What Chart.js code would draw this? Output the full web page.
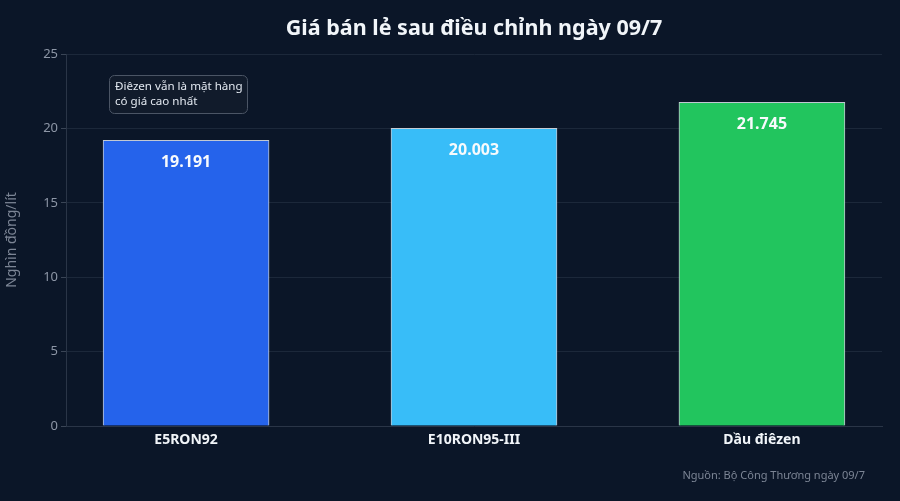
<!DOCTYPE html>
<html><head><meta charset="utf-8">
<script src="https://cdn.jsdelivr.net/npm/chart.js@4.4.1/dist/chart.umd.min.js"></script>
<style>html,body{margin:0;padding:0;background:#0b1628;}#wrap{width:900px;height:501px;}</style>
</head><body><div id="wrap"><canvas id="c" width="900" height="501"></canvas></div>
<script>
const categories = ['E5RON92', 'E10RON95-III', 'Dầu điêzen'];
const prices = [19.191, 20.003, 21.745];
const barColors = ['#2563eb', '#38bdf8', '#22c55e'];
const yTicks = [0, 5, 10, 15, 20, 25];
const titleText = 'Giá bán lẻ sau điều chỉnh ngày 09/7';
const yTitle = 'Nghìn đồng/lít';
const noteLines = ['Điêzen vẫn là mặt hàng', 'có giá cao nhất'];
const sourceText = 'Nguồn: Bộ Công Thương ngày 09/7';
const FONT = "'Noto Sans', 'Open Sans', sans-serif";

const overlay = {
  id: 'overlay',
  afterDatasetsDraw(chart) {
    const ctx = chart.ctx, ca = chart.chartArea;
    ctx.save();
    const meta = chart.getDatasetMeta(0);
    ctx.fillStyle = '#f8fafc';
    ctx.font = 'bold 16px ' + FONT;
    ctx.textAlign = 'center'; ctx.textBaseline = 'middle';
    meta.data.forEach((b, i) => {
      ctx.fillText(prices[i].toFixed(3), b.x, b.y + 22);
    });
    ctx.font = 'bold 21.5px ' + FONT;
    ctx.fillStyle = '#f1f5f9';
    ctx.fillText(titleText, (ca.left + ca.right) / 2, 29);
    const bx = ca.left + 43, by = ca.top + 21, bw = 138, bh = 38;
    ctx.beginPath();
    ctx.roundRect(bx + 0.5, by + 0.5, bw, bh, 5);
    ctx.fillStyle = '#111b2b';
    ctx.fill();
    ctx.strokeStyle = '#4b5565';
    ctx.lineWidth = 1;
    ctx.stroke();
    ctx.font = '11.6px ' + FONT;
    ctx.fillStyle = '#e2e8f0';
    ctx.textAlign = 'left';
    ctx.fillText(noteLines[0], bx + 6, by + 12);
    ctx.fillText(noteLines[1], bx + 6, by + 27);
    ctx.font = '11px ' + FONT;
    ctx.fillStyle = '#7c8595';
    ctx.textAlign = 'right';
    ctx.fillText(sourceText, ca.right - 17, 476);
    ctx.restore();
  }
};

new Chart(document.getElementById('c'), {
  type: 'bar',
  data: {
    datasets: [{
      data: prices.map((v, i) => ({x: i, y: v})),
      backgroundColor: barColors,
      borderColor: 'rgba(226,232,240,0.85)',
      borderWidth: 1,
      barThickness: 166
    }]
  },
  options: {
    responsive: false,
    animation: false,
    devicePixelRatio: 1,
    layout: {padding: {top: 54, right: 18, left: 0, bottom: 0}},
    plugins: {legend: {display: false}, tooltip: {enabled: false}},
    scales: {
      x: {
        type: 'linear',
        offset: false,
        min: -0.417, max: 2.417,
        afterBuildTicks(s) { s.ticks = categories.map((_, i) => ({value: i})); },
        afterFit(s) { s.height = 75; },
        grid: {display: false, drawTicks: false},
        border: {display: true, color: '#2a3547'},
        ticks: {
          callback: v => categories[v] ?? '',
          color: '#f1f5f9',
          font: {family: FONT, size: 14, weight: 'bold'},
          padding: 6,
          maxRotation: 0
        }
      },
      y: {
        min: 0, max: 25,
        afterBuildTicks(s) { s.ticks = yTicks.map(v => ({value: v})); },
        afterFit(s) { s.width = 66; },
        grid: {color: '#1c283a', tickColor: '#3a4556', tickLength: 5},
        border: {display: true, color: '#2a3547'},
        ticks: {color: '#8d96a6', font: {family: FONT, size: 13}, padding: 3},
        title: {display: true, text: yTitle, color: '#7c8595', font: {family: FONT, size: 14}, padding: {bottom: 8}}
      }
    }
  },
  plugins: [overlay]
});
</script></body></html>
